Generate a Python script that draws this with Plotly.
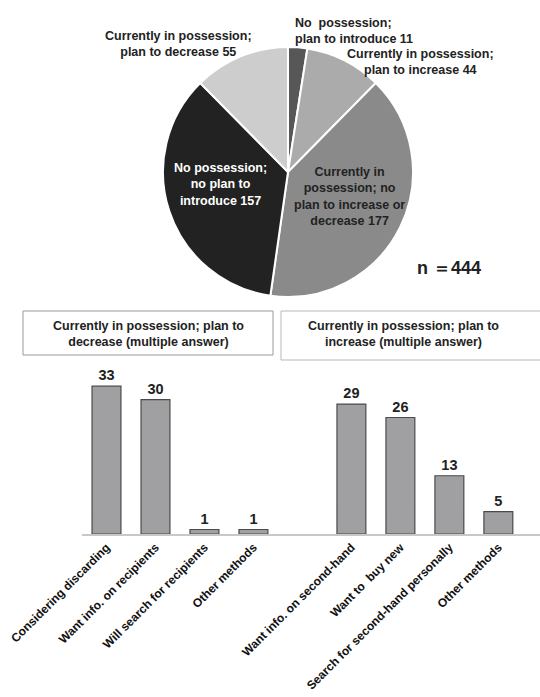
import plotly.graph_objects as go

# Survey breakdown (n = 444)
pie_labels = [
    "No  possession;<br>plan to introduce",
    "Currently in possession;<br>plan to increase",
    "Currently in<br>possession; no<br>plan to increase or<br>decrease",
    "No possession;<br>no plan to<br>introduce",
    "Currently in possession;<br>plan to decrease",
]
pie_values = [11, 44, 177, 157, 55]
pie_colors = ["#575757", "#ababab", "#8a8a8a", "#222222", "#cdcdcd"]

# Follow-up questions (multiple answer)
dec_labels = ["Considering discarding", "Want info. on recipients",
              "Will search for recipients", "Other methods"]
dec_values = [33, 30, 1, 1]
inc_labels = ["Want info. on second-hand", "Want to  buy new",
              "Search for second-hand personally", "Other methods"]
inc_values = [29, 26, 13, 5]

W, H = 540, 697
FONT = "Liberation Sans, Arial, sans-serif"


def px(x):
    return x / W


def py(y):
    return 1 - y / H


def bold(size, color="#222222"):
    return dict(family=FONT, size=size, color=color, weight="bold")


fig = go.Figure()

fig.add_trace(go.Pie(
    values=pie_values,
    labels=[l.replace("<br>", " ") for l in pie_labels],
    marker=dict(colors=pie_colors, line=dict(color="white", width=2)),
    sort=False,
    direction="clockwise",
    rotation=0,
    textinfo="none",
    hoverinfo="label+value",
    showlegend=False,
    domain=dict(x=[px(163), px(413)], y=[py(297), py(47)]),
))

# Bar positions: the two groups share one axis with an empty slot between them
dec_x = list(range(len(dec_values)))
inc_x = [len(dec_values) + 1 + i for i in range(len(inc_values))]

bar_style = dict(
    marker=dict(color="#a0a0a2", line=dict(color="#4a4a4a", width=1.2)),
    width=0.59,
    textposition="outside",
    textfont=bold(14.5),
    cliponaxis=False,
    showlegend=False,
)
fig.add_trace(go.Bar(x=dec_x, y=dec_values, text=dec_values, **bar_style))
fig.add_trace(go.Bar(x=inc_x, y=inc_values, text=inc_values, **bar_style))

fig.update_xaxes(
    domain=[px(82), 1],
    range=[-0.5, 8.85],
    tickvals=dec_x + inc_x,
    ticktext=dec_labels + inc_labels,
    tickangle=-45,
    tickfont=bold(12, "#111111"),
    showline=True, linecolor="#c8c8c8", linewidth=1.5,
    showgrid=False, zeroline=False, ticks="",
    automargin=False,
)
fig.update_yaxes(
    domain=[py(534), py(534 - 36 * 4.48)],
    range=[0, 36],
    visible=False,
    automargin=False,
)

ann = []
lab_font = bold(12.5)
# Outside pie labels
ann.append(dict(x=px(293), y=py(31), xanchor="left",
                text=f"{pie_labels[0]} {pie_values[0]}", align="left"))
ann.append(dict(x=px(420), y=py(62), xanchor="center",
                text=f"{pie_labels[1]} {pie_values[1]}"))
ann.append(dict(x=px(178), y=py(44), xanchor="center",
                text=f"{pie_labels[4]} {pie_values[4]}"))
# Inside pie labels
ann.append(dict(x=px(349), y=py(196), xanchor="center",
                text=f"{pie_labels[2]} {pie_values[2]}"))
ann.append(dict(x=px(220), y=py(185), xanchor="center",
                text=f"{pie_labels[3]} {pie_values[3]}",
                font=bold(12.5, "white")))
for a in ann:
    a.setdefault("font", lab_font)
    a.update(xref="paper", yref="paper", yanchor="middle", showarrow=False)
    a.setdefault("align", "center")

ann.append(dict(x=px(415), y=py(268), xref="paper", yref="paper",
                xanchor="left", yanchor="middle", showarrow=False,
                text=f"n ＝{sum(pie_values)}",
                font=dict(family=FONT, size=18, color="#222222", weight=600)))

# Group title boxes
ann.append(dict(x=px(148), y=py(334), xref="paper", yref="paper",
                xanchor="center", yanchor="middle", showarrow=False,
                text="Currently in possession; plan to<br>decrease (multiple answer)",
                font=bold(12.5)))
ann.append(dict(x=px(403), y=py(334), xref="paper", yref="paper",
                xanchor="center", yanchor="middle", showarrow=False,
                text="Currently in possession; plan to<br>increase (multiple answer)",
                font=bold(12.5)))

shapes = [
    dict(type="rect", xref="paper", yref="paper",
         x0=px(23), x1=px(273), y0=py(355), y1=py(311),
         line=dict(color="#9a9a9a", width=1)),
    dict(type="rect", xref="paper", yref="paper",
         x0=px(281), x1=px(545), y0=py(360), y1=py(311),
         line=dict(color="#b8b8b8", width=1)),
]

fig.update_layout(
    width=W, height=H,
    margin=dict(l=0, r=0, t=0, b=0, autoexpand=False),
    paper_bgcolor="white", plot_bgcolor="white",
    font=dict(family=FONT, color="#222222"),
    annotations=ann,
    shapes=shapes,
    bargap=0.4,
)

fig.write_html("out.html")
